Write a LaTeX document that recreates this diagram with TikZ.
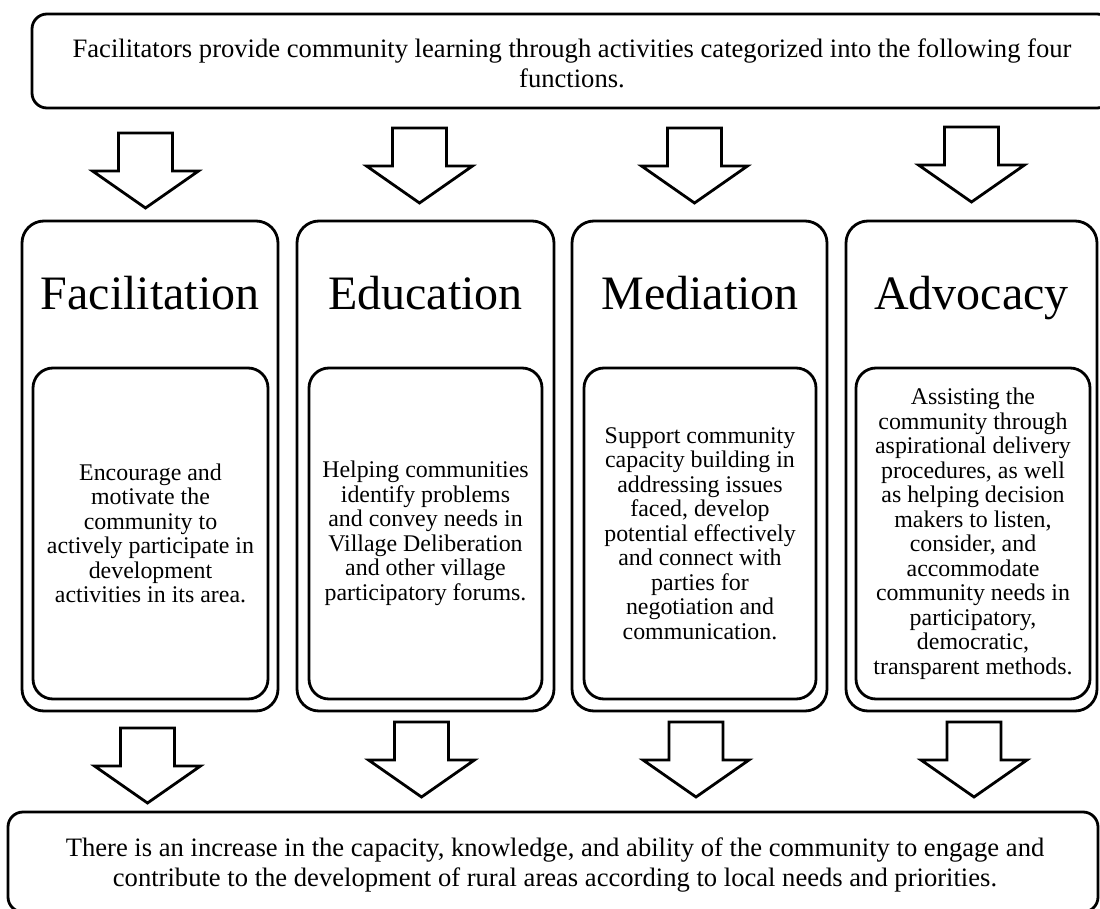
\documentclass[tikz,border=0pt]{standalone}
\usepackage{fontspec}
\setmainfont{Liberation Serif}
\begin{document}
\begin{tikzpicture}[x=1pt,y=-1pt,
  lw/.style={line width=2.8pt},
  bigbox/.style={draw, lw, rounded corners=15pt, align=center, inner sep=0pt, font=\fontsize{26.6}{30}\selectfont},
  outerbox/.style={draw, lw, rounded corners=22pt, inner sep=0pt},
  innerbox/.style={draw, lw, rounded corners=20pt, align=center, inner sep=0pt, font=\fontsize{23.9}{24.5}\selectfont},
  heading/.style={anchor=base, inner sep=0pt, font=\fontsize{48}{50}\selectfont},
  blockarrow/.pic={\draw[lw, line join=miter, fill=white] (-27,0) -- (27,0) -- (27,38) -- (53,38) -- (0,75) -- (-53,38) -- (-27,38) -- cycle;}
]
\useasboundingbox (0,0) rectangle (1100,909);

% top box
\node[bigbox, minimum width=1080pt, minimum height=94pt] (top) at (572,61) {};
\node[align=center, inner sep=0pt, font=\fontsize{26.6}{30}\selectfont] (toptext) at (572,63)
  {Facilitators provide community learning through activities categorized into the following four\\functions.};

% columns: outer boxes
\node[outerbox, minimum width=256pt, minimum height=490pt] (o1) at (150,466) {};
\node[outerbox, minimum width=257pt, minimum height=490pt] (o2) at (425.5,466) {};
\node[outerbox, minimum width=255pt, minimum height=490pt] (o3) at (699.5,466) {};
\node[outerbox, minimum width=251pt, minimum height=490pt] (o4) at (971.5,466) {};

% headings
\node[heading] (h1) at (150,309) {Facilitation};
\node[heading] (h2) at (425.5,309) {Education};
\node[heading] (h3) at (700,309) {Mediation};
\node[heading] (h4) at (971.5,309) {Advocacy};

% inner boxes
\node[innerbox, minimum width=235pt, minimum height=331pt] (i1) at (150.5,533.5)
  {Encourage and\\motivate the\\community to\\actively participate in\\development\\activities in its area.};
\node[innerbox, minimum width=233pt, minimum height=331pt] (i2) at (425.5,533.5)
  {Helping communities\\identify problems\\and convey needs in\\Village Deliberation\\and other village\\participatory forums.};
\node[innerbox, minimum width=232pt, minimum height=331pt] (i3) at (700,533.5)
  {Support community\\capacity building in\\addressing issues\\faced, develop\\potential effectively\\and connect with\\parties for\\negotiation and\\communication.};
\node[innerbox, minimum width=234pt, minimum height=331pt] (i4) at (973,533.5)
  {Assisting the\\community through\\aspirational delivery\\procedures, as well\\as helping decision\\makers to listen,\\consider, and\\accommodate\\community needs in\\participatory,\\democratic,\\transparent methods.};

% bottom box
\node[bigbox, minimum width=1090pt, minimum height=100pt] (bot) at (553,862) {};
\node[align=center, inner sep=0pt, font=\fontsize{26.6}{30}\selectfont] (bottext) at (555,865)
  {There is an increase in the capacity, knowledge, and ability of the community to engage and\\contribute to the development of rural areas according to local needs and priorities.};

% block arrows top -> columns
\pic at (145.5,133) {blockarrow};
\pic at (419.5,128) {blockarrow};
\pic at (694.5,128) {blockarrow};
\pic at (971.5,127) {blockarrow};
% block arrows columns -> bottom
\pic at (147.5,728) {blockarrow};
\pic at (421.5,722) {blockarrow};
\pic at (696,722) {blockarrow};
\pic at (974,722) {blockarrow};
\end{tikzpicture}
\end{document}
